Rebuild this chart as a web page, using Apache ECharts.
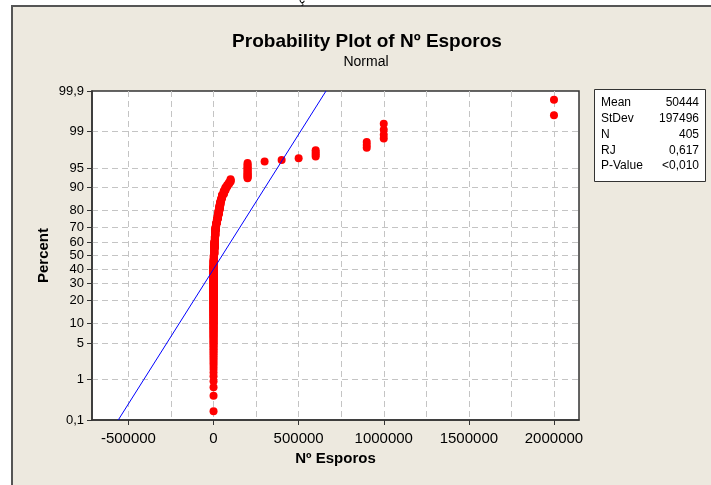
<!DOCTYPE html>
<html>
<head>
<meta charset="utf-8">
<title>Probability Plot of Nº Esporos</title>
<script src="https://cdn.jsdelivr.net/npm/echarts@6/dist/echarts.min.js"></script>
<style>
  html, body { margin: 0; padding: 0; background: #ffffff; }
  #frame {
    position: absolute; left: 11px; top: 5px; width: 720px; height: 500px;
    background: #EDE9DF; border-top: 2px solid #555; border-left: 2px solid #555;
  }
  #chart { position: absolute; left: 0; top: 0; width: 711px; height: 485px; }
</style>
</head>
<body>
<div id="frame"></div>
<div id="chart"></div>
<script>
// Sorted spore counts, grouped as distinct value + how many observations share it
const sporeValues = [0, 1000, 2000, 4000, 6000, 8000, 10000, 12000, 15000, 20000,
  25000, 30000, 35000, 40000, 45000, 50000, 60000, 70000, 80000, 90000, 100000,
  200000, 300000, 400000, 500000, 600000, 900000, 1000000, 2000000];
const sporeCounts = [170, 20, 15, 20, 20, 15, 15, 10, 10, 10,
  10, 10, 10, 8, 5, 6, 6, 5, 3, 3, 4,
  14, 1, 1, 1, 4, 3, 4, 2];

// Fitted normal distribution
const fitMean = 50444;
const fitStDev = 197496;

// Summary table
const statNames = ['Mean', 'StDev', 'N', 'RJ', 'P-Value'];
const statValues = ['50444', '197496', '405', '0,617', '<0,010'];

// Probability axis ticks (percent) and their printed labels
const percentTicks = [0.1, 1, 5, 10, 20, 30, 40, 50, 60, 70, 80, 90, 95, 99, 99.9];
const percentLabels = ['0,1', '1', '5', '10', '20', '30', '40', '50', '60', '70', '80', '90', '95', '99', '99,9'];

// Horizontal axis ticks and grid positions
const xTicks = [-500000, 0, 500000, 1000000, 1500000, 2000000];
const xGrid = [-500000, -250000, 0, 250000, 500000, 750000, 1000000, 1250000, 1500000, 1750000, 2000000];
const xMin = -714000;
const xMax = 2147000;

// Inverse standard normal CDF (Acklam's rational approximation)
function probit(p) {
  const a = [-3.969683028665376e+01, 2.209460984245205e+02, -2.759285104469687e+02, 1.383577518672690e+02, -3.066479806614716e+01, 2.506628277459239e+00];
  const b = [-5.447609879822406e+01, 1.615858368580409e+02, -1.556989798598866e+02, 6.680131188771972e+01, -1.328068155288572e+01];
  const c = [-7.784894002430293e-03, -3.223964580411365e-01, -2.400758277161838e+00, -2.549732539343734e+00, 4.374664141464968e+00, 2.938163982698783e+00];
  const d = [7.784695709041462e-03, 3.224671290700398e-01, 2.445134137142996e+00, 3.754408661907416e+00];
  const lo = 0.02425, hi = 1 - lo;
  let q, r;
  if (p < lo) {
    q = Math.sqrt(-2 * Math.log(p));
    return (((((c[0]*q+c[1])*q+c[2])*q+c[3])*q+c[4])*q+c[5]) / ((((d[0]*q+d[1])*q+d[2])*q+d[3])*q+1);
  }
  if (p <= hi) {
    q = p - 0.5; r = q * q;
    return (((((a[0]*r+a[1])*r+a[2])*r+a[3])*r+a[4])*r+a[5])*q / (((((b[0]*r+b[1])*r+b[2])*r+b[3])*r+b[4])*r+1);
  }
  q = Math.sqrt(-2 * Math.log(1 - p));
  return -(((((c[0]*q+c[1])*q+c[2])*q+c[3])*q+c[4])*q+c[5]) / ((((d[0]*q+d[1])*q+d[2])*q+d[3])*q+1);
}

const zTicks = percentTicks.map(function (pc) { return probit(pc / 100); });
const zMin = zTicks[0];
const zMax = zTicks[zTicks.length - 1];
// Interior ticks carry the dashed grid; the outer two coincide with the frame
const zGrid = zTicks.slice(1, zTicks.length - 1);

// Each observation plotted at its median-rank position (i - 0.3) / (n + 0.4)
const n = sporeCounts.reduce(function (s, v) { return s + v; }, 0);
const points = [];
let rank = 0;
sporeValues.forEach(function (v, k) {
  for (let j = 0; j < sporeCounts[k]; j++) {
    rank++;
    points.push([v, probit((rank - 0.3) / (n + 0.4))]);
  }
});

const fitLine = [
  [fitMean + fitStDev * zMin, zMin],
  [fitMean + fitStDev * zMax, zMax]
];

function percentLabel(v) {
  let best = 0;
  for (let i = 1; i < zTicks.length; i++) {
    if (Math.abs(zTicks[i] - v) < Math.abs(zTicks[best] - v)) best = i;
  }
  return percentLabels[best];
}

const FONT = '"Liberation Sans", Arial, sans-serif';
const gridLine = { show: true, lineStyle: { color: '#C4C4C4', width: 1, type: [6, 4] } };

const statGraphics = [{
  type: 'rect',
  shape: { x: 594.5, y: 89.5, width: 111, height: 92 },
  style: { fill: '#ffffff', stroke: '#333333', lineWidth: 1 }
}];
statNames.forEach(function (name, i) {
  const y = 103 + i * 15.75;
  statGraphics.push({
    type: 'text', x: 601, y: y,
    style: { text: name, font: '12px ' + FONT, fill: '#000', textAlign: 'left', textVerticalAlign: 'middle' }
  });
  statGraphics.push({
    type: 'text', x: 699, y: y,
    style: { text: statValues[i], font: '12px ' + FONT, fill: '#000', textAlign: 'right', textVerticalAlign: 'middle' }
  });
});

const chart = echarts.init(document.getElementById('chart'), null, { renderer: 'canvas' });
chart.setOption({
  backgroundColor: 'transparent',
  animation: false,
  textStyle: { fontFamily: FONT },
  graphic: [
    {
      type: 'text', x: 302, y: 6,
      style: { text: 'ç', font: '12px ' + FONT, fill: '#000', textAlign: 'center', textVerticalAlign: 'bottom' }
    },
    {
      type: 'text', x: 367, y: 42,
      style: { text: 'Probability Plot of Nº Esporos', font: 'bold 19px ' + FONT, fill: '#000', textAlign: 'center', textVerticalAlign: 'middle' }
    },
    {
      type: 'text', x: 366, y: 62,
      style: { text: 'Normal', font: '14px ' + FONT, fill: '#000', textAlign: 'center', textVerticalAlign: 'middle' }
    }
  ].concat(statGraphics),
  grid: {
    left: 92, top: 91, width: 487, height: 329,
    show: true, backgroundColor: '#ffffff', borderColor: '#333333', borderWidth: 1.5
  },
  xAxis: [
    {
      type: 'value', min: xMin, max: xMax,
      name: 'Nº Esporos', nameLocation: 'middle', nameGap: 31,
      nameTextStyle: { fontSize: 15, fontWeight: 'bold', color: '#000', fontFamily: FONT },
      axisLine: { show: true, onZero: false, lineStyle: { color: '#333333', width: 1.5 } },
      axisTick: { show: true, length: 5, customValues: xTicks, lineStyle: { color: '#333333', width: 1 } },
      axisLabel: { show: true, customValues: xTicks, margin: 11, fontSize: 15, color: '#000', fontFamily: FONT,
        formatter: function (v) { return String(v); } },
      splitLine: { show: false }
    },
    {
      type: 'value', min: xMin, max: xMax, position: 'bottom',
      axisLine: { show: false, onZero: false },
      axisTick: { show: false, customValues: xGrid },
      axisLabel: { show: false },
      splitLine: gridLine
    }
  ],
  yAxis: [
    {
      type: 'value', min: zMin, max: zMax,
      name: 'Percent', nameLocation: 'middle', nameGap: 41, nameRotate: 90, nameMoveOverlap: false,
      nameTextStyle: { fontSize: 15, fontWeight: 'bold', color: '#000', fontFamily: FONT },
      axisLine: { show: true, onZero: false, lineStyle: { color: '#333333', width: 1.5 } },
      axisTick: { show: true, length: 5, customValues: zTicks, lineStyle: { color: '#333333', width: 1 } },
      axisLabel: { show: true, customValues: zTicks, margin: 8, fontSize: 13, color: '#000', fontFamily: FONT,
        formatter: percentLabel },
      splitLine: { show: false }
    },
    {
      type: 'value', min: zMin, max: zMax, position: 'left',
      axisLine: { show: false, onZero: false },
      axisTick: { show: false, customValues: zGrid },
      axisLabel: { show: false },
      splitLine: gridLine
    }
  ],
  series: [
    {
      type: 'scatter', xAxisIndex: 0, yAxisIndex: 0, data: points,
      symbol: 'circle', symbolSize: 8,
      itemStyle: { color: '#FF0000', opacity: 1 },
      z: 3
    },
    {
      type: 'line', xAxisIndex: 0, yAxisIndex: 0, data: fitLine,
      showSymbol: false, symbol: 'none',
      lineStyle: { color: '#0000FF', width: 1 },
      z: 4
    }
  ]
});
</script>
</body>
</html>
